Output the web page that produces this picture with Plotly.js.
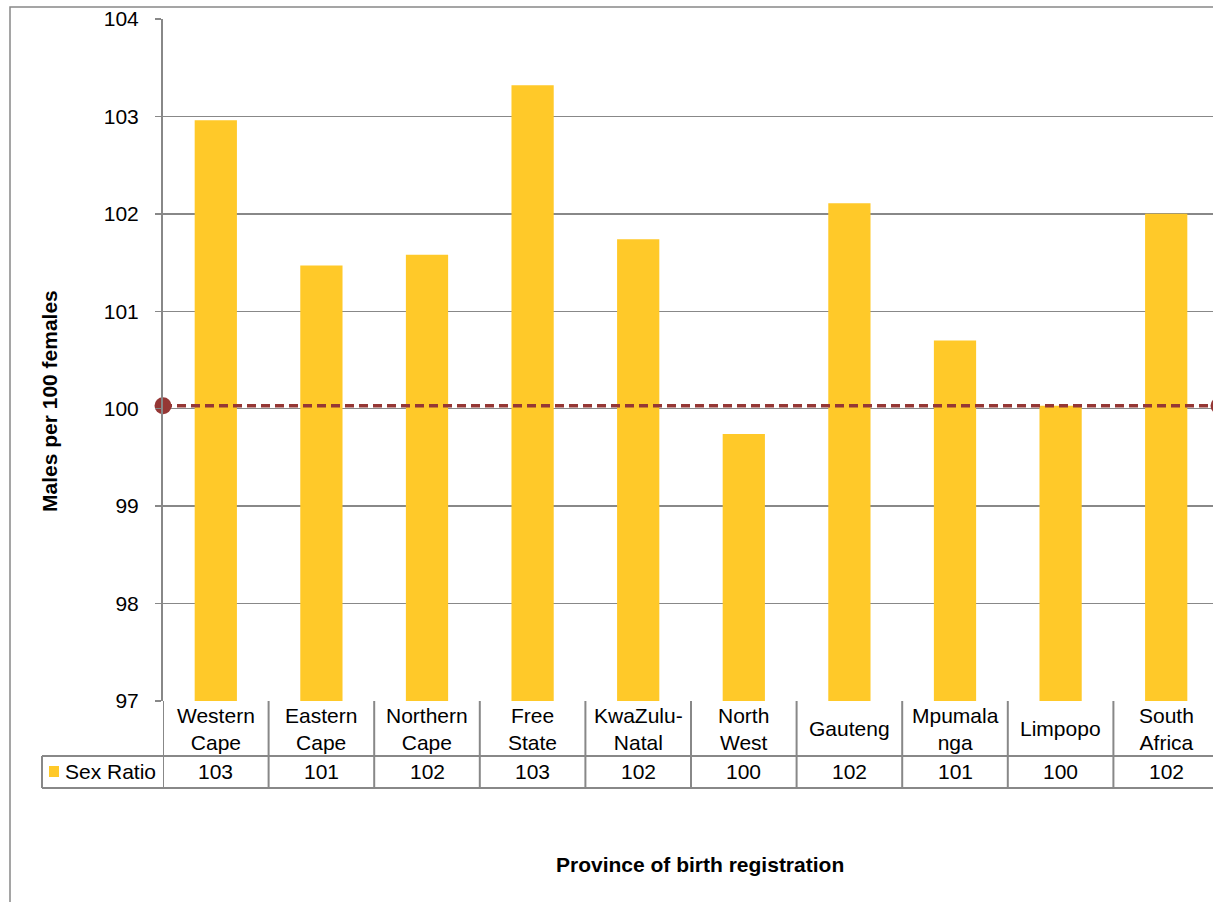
<!DOCTYPE html>
<html>
<head>
<meta charset="utf-8">
<script src="https://cdn.plot.ly/plotly-3.0.1.min.js"></script>
<style>
  html, body { margin: 0; padding: 0; background: #fff; overflow: hidden; }
  #chart { width: 1225px; height: 902px; }
</style>
</head>
<body>
<div id="chart"></div>
<script>
// Provinces (display labels, line-broken as in the data table)
const provinces = [
  "Western<br>Cape", "Eastern<br>Cape", "Northern<br>Cape", "Free<br>State",
  "KwaZulu-<br>Natal", "North<br>West", "Gauteng", "Mpumala<br>nga",
  "Limpopo", "South<br>Africa"
];
// Sex ratio at birth registration (males per 100 females)
const sexRatio = [102.96, 101.47, 101.58, 103.32, 101.74, 99.74, 102.11, 100.70, 100.03, 102.00];
const seriesName = "Sex Ratio";
// Parity reference level
const parityLevel = [100.03, 100.03];
const parityX = [0, 1];
const yTicks = [97, 98, 99, 100, 101, 102, 103, 104];

const barColor = "#FFC929";
const refColor = "#953735";
const gridColor = "#888888";
const FONT = "Liberation Sans, Arial, sans-serif";
const FS = 21;

// Figure geometry (pixels)
const W = 1225, H = 902;
const L = 163, R = 1219, T = 19, B = 701;
const xp = px => (px - L) / (R - L);
const yp = py => (B - py) / (B - T);

const rowSplit = 756, rowEnd = 788, legendLeft = 42;

const idx = provinces.map((_, i) => i);

const traces = [
  {
    type: "bar",
    x: idx,
    y: sexRatio,
    width: 0.4,
    marker: { color: barColor, line: { width: 0 } },
    name: seriesName,
    hoverinfo: "skip"
  },
  {
    type: "scatter",
    mode: "lines+markers",
    x: parityX,
    y: parityLevel,
    xaxis: "x2",
    line: { color: refColor, width: 3.6, dash: "9px,5px" },
    marker: { color: refColor, size: 17 },
    cliponaxis: false,
    hoverinfo: "skip",
    showlegend: false
  }
];

const shapes = [];
const annotations = [];

// Outer chart frame
shapes.push({
  type: "rect", xref: "paper", yref: "paper",
  x0: xp(10), x1: xp(1240), y0: yp(7), y1: yp(920),
  line: { color: gridColor, width: 1.5 }, fillcolor: "rgba(0,0,0,0)", layer: "below"
});

// Data table: horizontal rules
[rowSplit, rowEnd].forEach(py => {
  shapes.push({
    type: "line", xref: "paper", yref: "paper",
    x0: xp(legendLeft), x1: xp(1240), y0: yp(py), y1: yp(py),
    line: { color: gridColor, width: 2 }
  });
});
// Legend cell left edge
shapes.push({
  type: "line", xref: "paper", yref: "paper",
  x0: xp(legendLeft), x1: xp(legendLeft), y0: yp(rowSplit), y1: yp(rowEnd),
  line: { color: gridColor, width: 2 }
});
// Column separators
for (let i = 0; i <= provinces.length; i++) {
  shapes.push({
    type: "line", xref: "x", yref: "paper",
    x0: i - 0.5, x1: i - 0.5, y0: yp(B), y1: yp(rowEnd),
    line: { color: gridColor, width: 2 }
  });
}
// Legend key
shapes.push({
  type: "rect", xref: "paper", yref: "paper",
  x0: xp(49), x1: xp(59), y0: yp(766), y1: yp(777),
  fillcolor: barColor, line: { width: 0 }
});
annotations.push({
  xref: "paper", yref: "paper", x: xp(63), y: yp((rowSplit + rowEnd) / 2),
  xanchor: "left", yanchor: "middle", showarrow: false,
  text: seriesName, font: { family: FONT, size: FS, color: "#000" }
});

// Category labels and rounded values in the table
provinces.forEach((p, i) => {
  annotations.push({
    xref: "x", yref: "paper", x: i, y: yp((B + rowSplit) / 2),
    xanchor: "center", yanchor: "middle", showarrow: false,
    text: p, align: "center",
    font: { family: FONT, size: FS, color: "#000" }
  });
  annotations.push({
    xref: "x", yref: "paper", x: i, y: yp((rowSplit + rowEnd) / 2),
    xanchor: "center", yanchor: "middle", showarrow: false,
    text: String(Math.round(sexRatio[i])),
    font: { family: FONT, size: FS, color: "#000" }
  });
});

// Axis titles
annotations.push({
  xref: "paper", yref: "paper", x: xp(50), y: yp(401),
  xanchor: "center", yanchor: "middle", showarrow: false, textangle: -90,
  text: "<b>Males per 100 females</b>",
  font: { family: FONT, size: FS, color: "#000" }
});
annotations.push({
  xref: "paper", yref: "paper", x: xp(700), y: yp(864),
  xanchor: "center", yanchor: "middle", showarrow: false,
  text: "<b>Province of birth registration</b>",
  font: { family: FONT, size: FS, color: "#000" }
});

const layout = {
  width: W, height: H,
  margin: { l: L, r: W - R, t: T, b: H - B, pad: 0 },
  paper_bgcolor: "#fff", plot_bgcolor: "#fff",
  showlegend: false,
  xaxis: {
    type: "linear",
    range: [-0.5, provinces.length - 0.5],
    showticklabels: false, ticks: "",
    showgrid: false, zeroline: false, showline: false, fixedrange: true
  },
  xaxis2: {
    overlaying: "x", range: [0, 1], visible: false, fixedrange: true
  },
  yaxis: {
    range: [97, 104],
    tickvals: yTicks,
    ticktext: yTicks.map(String),
    ticks: "outside", ticklen: 6, tickwidth: 1.5, tickcolor: gridColor,
    ticklabelstandoff: 12,
    tickfont: { family: FONT, size: FS, color: "#000" },
    showgrid: true, gridcolor: gridColor, gridwidth: 1.5,
    zeroline: false,
    showline: true, linecolor: gridColor, linewidth: 2,
    fixedrange: true
  },
  shapes: shapes,
  annotations: annotations
};

Plotly.newPlot("chart", traces, layout, { displayModeBar: false, staticPlot: true });
</script>
</body>
</html>
